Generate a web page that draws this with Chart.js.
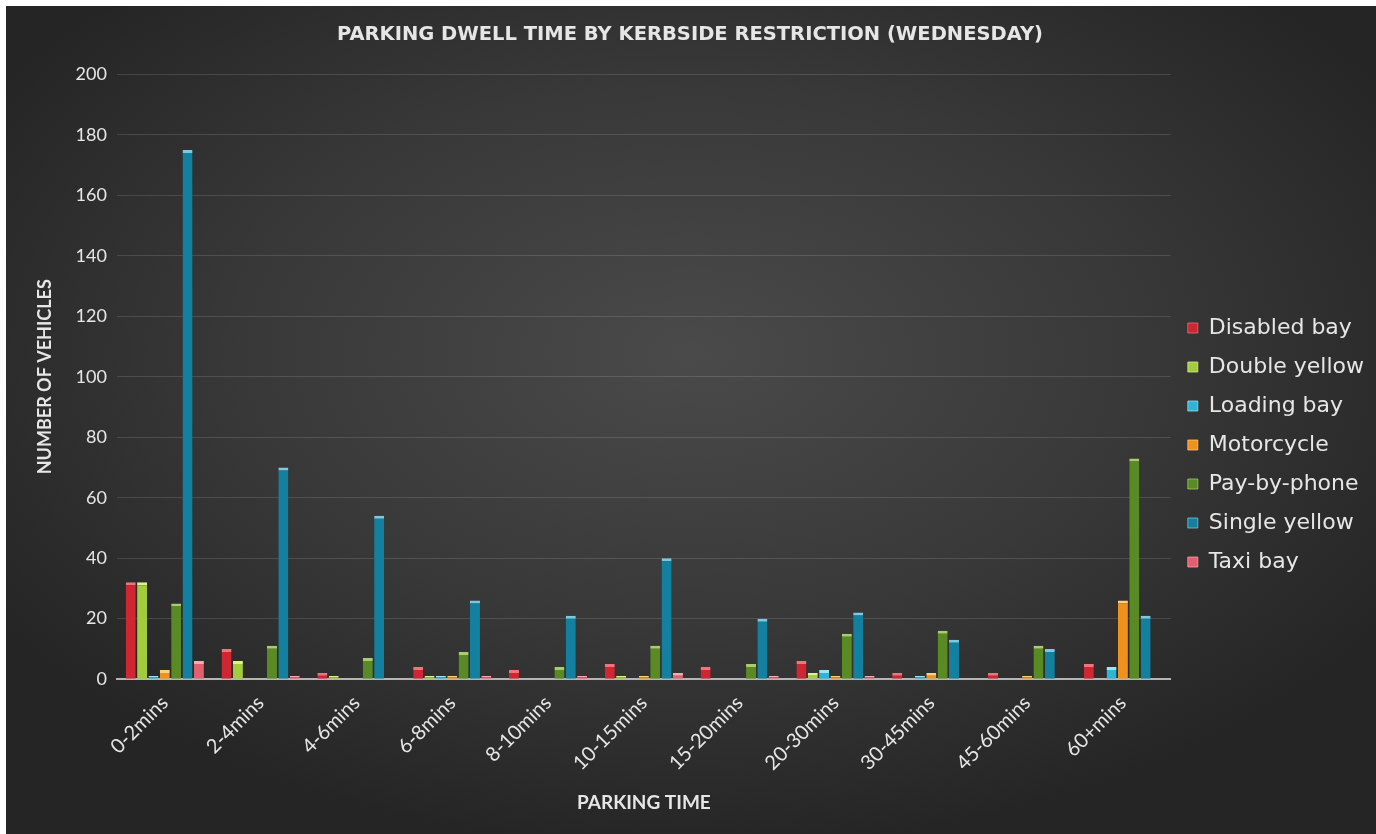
<!DOCTYPE html>
<html>
<head>
<meta charset="utf-8">
<script src="https://cdn.jsdelivr.net/npm/chart.js@4.4.0/dist/chart.umd.min.js"></script>
<style>
  html, body { margin: 0; padding: 0; background: #fff; }
  #wrap {
    position: absolute; left: 6px; top: 6px; width: 1370px; height: 828px;
    background: radial-gradient(ellipse 60% 60% at 50% 42%, #4a4a4a 0%, #383838 55%, #252525 100%);
  }
</style>
</head>
<body>
<div id="wrap"><canvas id="dwellChart"></canvas></div>
<script>
  const categories = ['0-2mins', '2-4mins', '4-6mins', '6-8mins', '8-10mins', '10-15mins',
    '15-20mins', '20-30mins', '30-45mins', '45-60mins', '60+mins'];

  const disabledBay  = [32, 10, 2, 4, 3, 5, 4, 6, 2, 2, 5];
  const doubleYellow = [32, 6, 1, 1, 0, 1, 0, 2, 0, 0, 0];
  const loadingBay   = [1, 0, 0, 1, 0, 0, 0, 3, 1, 0, 4];
  const motorcycle   = [3, 0, 0, 1, 0, 1, 0, 1, 2, 1, 26];
  const payByPhone   = [25, 11, 7, 9, 4, 11, 5, 15, 16, 11, 73];
  const singleYellow = [175, 70, 54, 26, 21, 40, 20, 22, 13, 10, 21];
  const taxiBay      = [6, 1, 0, 1, 1, 2, 1, 1, 0, 0, 0];

  const yTicks = [0, 20, 40, 60, 80, 100, 120, 140, 160, 180, 200];

  // bar colour + lighter "cap" colour
  function series(label, data, fill, cap) {
    return {
      label: label,
      data: data,
      backgroundColor: fill,
      borderColor: cap,
      borderWidth: { top: 3, left: 0, right: 0, bottom: 0 },
      borderSkipped: false
    };
  }

  const dwellData = {
    labels: categories,
    datasets: [
      series('Disabled bay', disabledBay, '#cf2631', '#f0747c'),
      series('Double yellow', doubleYellow, '#a2cb3d', '#dcf28e'),
      series('Loading bay', loadingBay, '#2eb4d7', '#9ce5f5'),
      series('Motorcycle', motorcycle, '#ef921d', '#fcd07c'),
      series('Pay-by-phone', payByPhone, '#5a8a23', '#a9cd6b'),
      series('Single yellow', singleYellow, '#14809f', '#7ccae2'),
      series('Taxi bay', taxiBay, '#e2606e', '#f6aab2')
    ]
  };

  const txt = '#e6e6e6';
  const lato = 'Lato, "Open Sans", sans-serif';
  const wide = '"DejaVu Sans", "Open Sans", sans-serif';

  const dwellConfig = {
    type: 'bar',
    data: dwellData,
    options: {
      responsive: true,
      maintainAspectRatio: false,
      animation: false,
      categoryPercentage: 0.83,
      barPercentage: 0.88,
      layout: { padding: { left: 0, right: 2, bottom: 20 } },
      plugins: {
        legend: {
          position: 'right',
          // empty title only pushes the items down a little
          title: { display: true, text: '', font: { size: 10 }, padding: 29 },
          labels: {
            color: txt,
            font: { family: wide, size: 22 },
            boxWidth: 10,
            boxHeight: 10,
            padding: 17
          }
        },
        title: {
          display: true,
          text: 'PARKING DWELL TIME BY KERBSIDE RESTRICTION (WEDNESDAY)',
          color: txt,
          font: { family: wide, size: 19.5, weight: 'bold' },
          padding: { top: 17, bottom: 28 }
        },
        tooltip: { enabled: false }
      },
      scales: {
        x: {
          grid: { display: false, drawTicks: false },
          border: { color: '#b5b5b5', width: 2 },
          ticks: {
            color: txt,
            font: { family: lato, size: 20 },
            minRotation: 45,
            maxRotation: 45,
            padding: 12
          },
          title: {
            display: true,
            text: 'PARKING TIME',
            color: txt,
            font: { family: lato, size: 19, weight: 'bold' },
            padding: { top: 4, bottom: 0 }
          }
        },
        y: {
          min: yTicks[0],
          max: yTicks[yTicks.length - 1],
          afterBuildTicks: function (axis) {
            axis.ticks = yTicks.map(function (v) { return { value: v }; });
          },
          grid: { color: 'rgba(255,255,255,0.13)', drawTicks: false },
          border: { display: false },
          ticks: {
            color: txt,
            font: { family: lato, size: 18 },
            padding: 10
          },
          title: {
            display: true,
            text: 'NUMBER OF VEHICLES',
            color: txt,
            font: { family: lato, size: 18, weight: 'bold' },
            padding: { top: 28, bottom: 10 }
          }
        }
      }
    }
  };

  const dwellChart = new Chart(document.getElementById('dwellChart'), dwellConfig);
</script>
</body>
</html>
